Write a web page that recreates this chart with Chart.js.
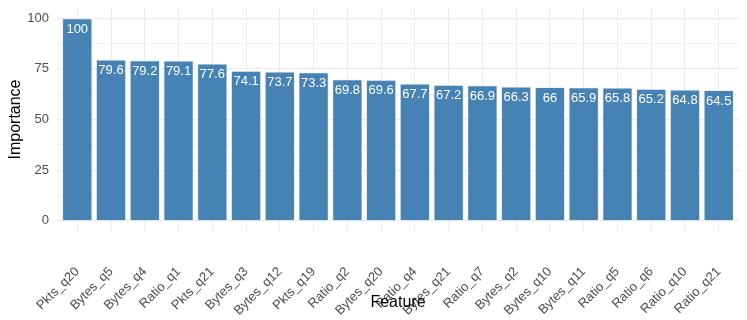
<!DOCTYPE html>
<html>
<head>
<meta charset="utf-8">
<script src="https://cdn.jsdelivr.net/npm/chart.js@4"></script>
<style>
  html, body { margin: 0; padding: 0; background: #fff; }
  #wrap { width: 747px; height: 320px; position: relative; }
</style>
</head>
<body>
<div id="wrap"><canvas id="chartCanvas"></canvas></div>
<script>
  // === Data ===
  const features = ['Pkts_q20','Bytes_q5','Bytes_q4','Ratio_q1','Pkts_q21','Bytes_q3','Bytes_q12','Pkts_q19','Ratio_q2','Bytes_q20',
                    'Ratio_q4','Bytes_q21','Ratio_q7','Bytes_q2','Bytes_q10','Bytes_q11','Ratio_q5','Ratio_q6','Ratio_q10','Ratio_q21'];
  const importance = [100,79.6,79.2,79.1,77.6,74.1,73.7,73.3,69.8,69.6,67.7,67.2,66.9,66.3,66,65.9,65.8,65.2,64.8,64.5];
  const yTicks = [0,12.5,25,37.5,50,62.5,75,87.5,100];

  const FONT = 'Liberation Sans, Arial, Helvetica, sans-serif';
  const GREY = '#4d4d4d';

  // value labels inside the top of each bar
  const barLabels = {
    id: 'barLabels',
    afterDatasetsDraw(chart) {
      const c = chart.ctx;
      const meta = chart.getDatasetMeta(0);
      c.save();
      c.fillStyle = '#ffffff';
      c.font = '13px ' + FONT;
      c.textAlign = 'center';
      c.textBaseline = 'middle';
      meta.data.forEach((bar, i) => {
        c.fillText(String(importance[i]), bar.x, bar.y + 11);
      });
      c.restore();
    }
  };

  // x title sits over the rotated labels like in ggplot
  const xTitle = {
    id: 'xTitle',
    afterDraw(chart) {
      const c = chart.ctx;
      const a = chart.chartArea;
      c.save();
      c.fillStyle = '#000';
      c.font = '16px ' + FONT;
      c.textAlign = 'center';
      c.textBaseline = 'middle';
      c.fillText('Feature', (a.left + a.right) / 2, 303);
      c.restore();
    }
  };

  const ctx = document.getElementById('chartCanvas').getContext('2d');
  new Chart(ctx, {
    type: 'bar',
    data: {
      datasets: [{
        data: importance.map((v, i) => ({ x: i + 1, y: v })),
        backgroundColor: '#4682b4',
        borderColor: 'rgba(235,242,250,0.85)',
        borderWidth: 1,
        barPercentage: 0.9,
        categoryPercentage: 1
      }]
    },
    plugins: [barLabels, xTitle],
    options: {
      responsive: true,
      maintainAspectRatio: false,
      animation: false,
      layout: { padding: { top: 8, right: 8, left: 6, bottom: 0 } },
      plugins: { legend: { display: false }, tooltip: { enabled: false } },
      scales: {
        x: {
          type: 'linear',
          min: 0.4, max: 20.6,
          offset: false,
          afterBuildTicks: s => { s.ticks = features.map((f, i) => ({ value: i + 1 })); },
          afterFit: s => { s.height = 89; s.paddingLeft = 0; s.paddingRight = 0; },
          grid: { color: '#ebebeb', lineWidth: 1, drawTicks: false, offset: false },
          border: { display: false },
          ticks: {
            autoSkip: false,
            minRotation: 45, maxRotation: 45,
            padding: 33,
            color: GREY,
            font: { family: FONT, size: 13 },
            callback: v => features[v - 1]
          }
        },
        y: {
          min: -5, max: 105,
          afterBuildTicks: s => { s.ticks = yTicks.map(v => ({ value: v })); },
          afterFit: s => { s.width = 51; s.paddingTop = 0; s.paddingBottom = 0; },
          grid: {
            color: '#ebebeb',
            lineWidth: c => (c.tick && c.tick.value % 25 === 0) ? 1.2 : 0.7,
            drawTicks: false
          },
          border: { display: false },
          title: { display: true, text: 'Importance', color: '#000', font: { family: FONT, size: 16 }, padding: 0 },
          ticks: {
            padding: 8,
            color: GREY,
            font: { family: FONT, size: 13 },
            callback: v => (v % 25 === 0 ? String(v) : '')
          }
        }
      }
    }
  });
</script>
</body>
</html>
